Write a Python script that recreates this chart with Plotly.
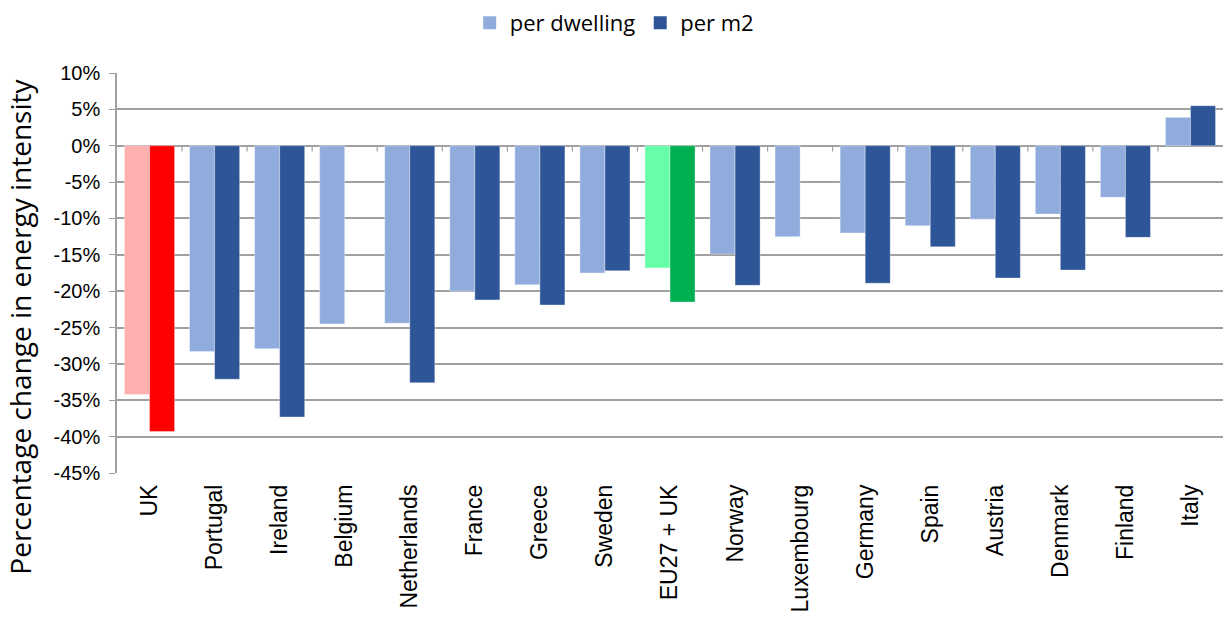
import plotly.graph_objects as go

# Change in household energy intensity by country
countries = ["UK", "Portugal", "Ireland", "Belgium", "Netherlands", "France", "Greece",
             "Sweden", "EU27 + UK", "Norway", "Luxembourg", "Germany", "Spain",
             "Austria", "Denmark", "Finland", "Italy"]
per_dwelling = [-34.2, -28.3, -27.9, -24.5, -24.4, -20.0, -19.1, -17.5, -16.8, -14.9,
                -12.5, -12.0, -11.0, -10.1, -9.4, -7.1, 3.9]
per_m2 = [-39.3, -32.1, -37.3, None, -32.6, -21.2, -21.9, -17.2, -21.5, -19.2,
          None, -18.9, -13.9, -18.2, -17.1, -12.6, 5.5]
y_ticks = list(range(10, -50, -5))

light_blue = "#8FACDD"
dark_blue = "#2E5597"
highlight_dwelling = {"UK": "#FFAFAF", "EU27 + UK": "#66FFA8"}
highlight_m2 = {"UK": "#FF0000", "EU27 + UK": "#00B050"}

dwelling_colors = [highlight_dwelling.get(c, light_blue) for c in countries]
m2_colors = [highlight_m2.get(c, dark_blue) for c in countries]
edge = dict(color="rgba(255,255,255,0.6)", width=0.6)

fig = go.Figure()
fig.add_trace(go.Bar(x=countries, y=per_dwelling, name="per dwelling",
                     marker=dict(color=dwelling_colors, line=edge), showlegend=False))
fig.add_trace(go.Bar(x=countries, y=per_m2, name="per m2",
                     marker=dict(color=m2_colors, line=edge), showlegend=False))

# Legend entries shown in each series' main colour
for name, col in [("per dwelling", light_blue), ("per m2", dark_blue)]:
    fig.add_trace(go.Scatter(x=[None], y=[None], mode="markers", name=name,
                             marker=dict(symbol="square", size=13, color=col)))

# Small category tick marks on the zero line
for i in range(len(countries) - 1):
    fig.add_shape(type="line", xref="x", yref="y", x0=i + 0.5, x1=i + 0.5,
                  y0=0, y1=-0.8, line=dict(color="#A0A0A0", width=1.2), layer="above")

# Axis title as an annotation so it can sit below the plot's centre
fig.add_annotation(text="Percentage change in energy intensity", textangle=-90,
                   xref="paper", yref="paper", x=-0.088, y=0.365,
                   xanchor="center", yanchor="middle", showarrow=False,
                   font=dict(family="Open Sans, sans-serif", size=28, color="black"))

fig.update_layout(
    width=1223, height=622,
    margin=dict(l=117, r=0, t=73, b=149),
    paper_bgcolor="white", plot_bgcolor="white",
    barmode="group", bargap=0.23, bargroupgap=0,
    font=dict(family="Liberation Sans, Arial, sans-serif", color="black"),
    showlegend=True,
    legend=dict(orientation="h", x=0.45, xanchor="center", y=0.997, yanchor="top",
                yref="container", font=dict(family="Open Sans, sans-serif", size=22),
                itemwidth=30, traceorder="normal", tracegroupgap=0),
    xaxis=dict(
        tickangle=-90, tickfont=dict(size=23, family="Liberation Sans, Arial"),
        showline=False, showgrid=False, ticks="", automargin=False,
        ticklabelstandoff=6,
    ),
    yaxis=dict(
        range=[-45, 10], tickvals=y_ticks,
        ticktext=[f"{v}%" for v in y_ticks],
        tickfont=dict(size=20, family="Liberation Sans, Arial"),
        showgrid=True, gridcolor="#A0A0A0", gridwidth=1.5,
        zeroline=True, zerolinecolor="#A0A0A0", zerolinewidth=1.5,
        showline=True, linecolor="#A0A0A0", linewidth=1.5,
        ticks="outside", ticklen=6, tickcolor="#A0A0A0", tickwidth=1.2,
        ticklabelstandoff=5, automargin=False,
    ),
)

fig.write_html("out.html")
